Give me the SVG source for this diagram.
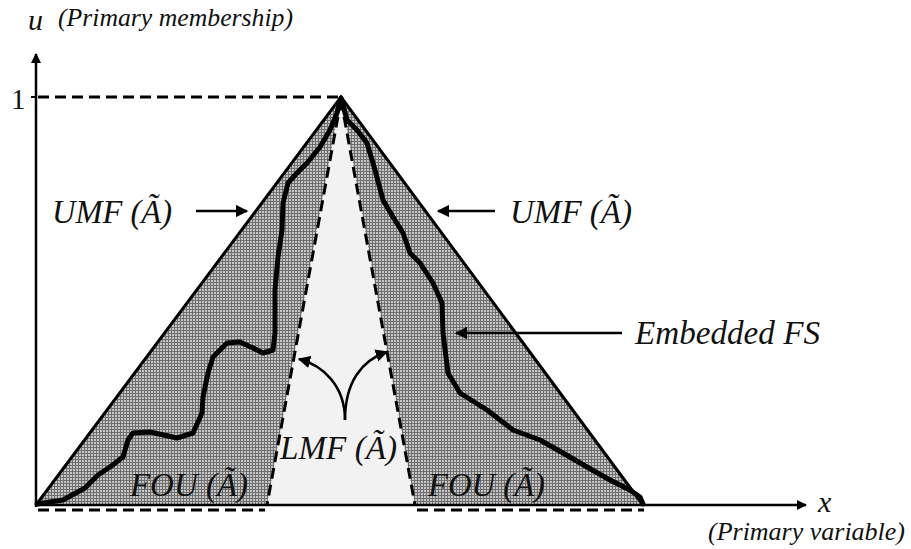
<svg xmlns="http://www.w3.org/2000/svg" width="911" height="549" viewBox="0 0 911 549">
<style>
.lbl{font-style:italic;fill:#111;}
.big{font-size:34px;}
.small{font-size:25px;}
.math{font-size:30px;}
.ln{stroke:#000;fill:none;}
.dash{stroke:#000;fill:none;stroke-width:3;stroke-dasharray:11 6;}
</style>
<defs>
<pattern id="stip" width="3" height="3" patternUnits="userSpaceOnUse">
<rect width="3" height="3" fill="#6e6e6e"/>
<rect x="1" y="1" width="2" height="2" fill="#c6c6c6"/>
</pattern>
<marker id="ah" viewBox="0 0 10 10" refX="9" refY="5" markerWidth="5" markerHeight="5" orient="auto" markerUnits="strokeWidth">
<path d="M0,0 L10,5 L0,10 Z" fill="#000"/>
</marker>
<marker id="axh" viewBox="0 0 10 10" refX="9" refY="5" markerWidth="5" markerHeight="4" orient="auto" markerUnits="strokeWidth">
<path d="M0,0 L10,5 L0,10 Z" fill="#000"/>
</marker>
</defs>

<g id="fou-region">
<polygon points="36,505 341,97 643,505" fill="url(#stip)"/>
</g>
<g id="lmf-region">
<polygon points="341,97 267,505 415,505" fill="#f2f2f2"/>
<path class="dash" d="M341,100 L267,505"/>
<path class="dash" d="M341,100 L415,505"/>
</g>
<g id="umf">
<path class="ln" stroke-width="3" d="M36,505 L341,97 L643,505"/>
</g>
<g id="embedded-fs">
<path class="ln" stroke-width="5" stroke-linejoin="round" stroke-linecap="round" d="M37,504 L63,500 L85,488 L98,475 L110,467 L123,457 L128,440 L133,433 L150,432 L177,438 L193,433 L202,413 L203,397 L208,373 L213,357 L227,343 L240,342 L253,348 L263,353 L273,350 L275,333 L275,290 L278,257 L282,230 L283,203 L288,183 L297,173 L307,163 L320,147 L330,130 L337,113 L341,98 L347,120 L357,130 L367,143 L375,170 L383,200 L393,217 L403,233 L410,253 L420,263 L433,283 L442,303 L443,333 L448,373 L460,393 L487,410 L513,430 L540,440 L563,453 L587,467 L610,480 L630,490 L640,497 L643,504"/>
</g>
<g id="axes">
<path class="ln" stroke-width="2.5" d="M36,507 L36,54" marker-end="url(#axh)"/>
<path class="ln" stroke-width="2.5" d="M36,505 L806,505" marker-end="url(#axh)"/>
<path class="ln" stroke-width="2" d="M31,97 L36,97"/>
<path class="dash" stroke-width="2.5" d="M38,97 L340,97"/>
<path class="dash" d="M38,510 L265,510"/>
<path class="dash" d="M417,510 L644,510"/>
</g>
<g id="connectors">
<path class="ln" stroke-width="2.5" d="M196,211 L247,211" marker-end="url(#ah)"/>
<path class="ln" stroke-width="2.5" d="M495,211 L438,211" marker-end="url(#ah)"/>
<path class="ln" stroke-width="2.5" d="M622,333 L456,333" marker-end="url(#ah)"/>
<path class="ln" stroke-width="2.5" d="M345,420 C345,385 322,365 299,359" marker-end="url(#ah)"/>
<path class="ln" stroke-width="2.5" d="M345,420 C345,382 362,360 387,352" marker-end="url(#ah)"/>
</g>
<g id="labels" font-family="Liberation Serif, Times New Roman, serif">
<text class="lbl math" x="28" y="30">u</text>
<text class="lbl small" x="58" y="26" textLength="235" lengthAdjust="spacingAndGlyphs">(Primary membership)</text>
<text class="lbl" style="font-style:normal;font-size:29px" x="11" y="109">1</text>
<text class="lbl math" x="818" y="512">x</text>
<text class="lbl small" x="708" y="540" textLength="197" lengthAdjust="spacingAndGlyphs">(Primary variable)</text>
<text class="lbl big" x="52" y="223" textLength="120" lengthAdjust="spacingAndGlyphs">UMF (Ã)</text>
<text class="lbl big" x="510" y="223" textLength="122" lengthAdjust="spacingAndGlyphs">UMF (Ã)</text>
<text class="lbl big" x="635" y="344" textLength="185" lengthAdjust="spacingAndGlyphs">Embedded FS</text>
<text class="lbl big" x="280" y="459" textLength="117" lengthAdjust="spacingAndGlyphs">LMF (Ã)</text>
<text class="lbl big" x="130" y="496" textLength="118" lengthAdjust="spacingAndGlyphs">FOU (Ã)</text>
<text class="lbl big" x="428" y="496" textLength="117" lengthAdjust="spacingAndGlyphs">FOU (Ã)</text>
</g>
</svg>
